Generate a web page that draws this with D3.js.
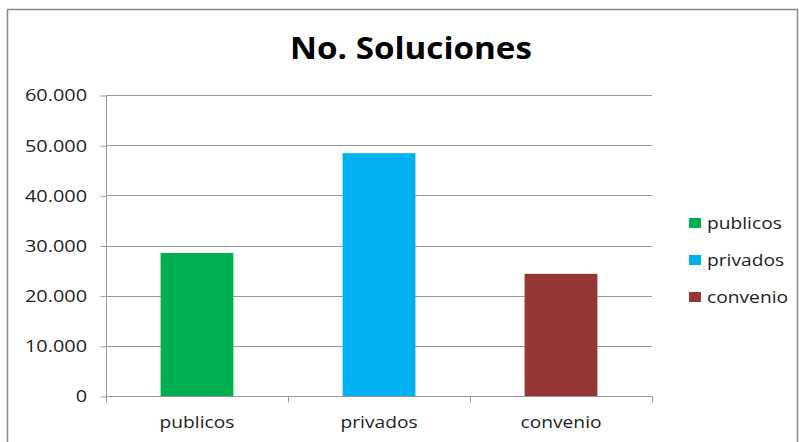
<html>
<head>
<script src="https://cdn.jsdelivr.net/npm/d3@7"></script>
<style>
 body { margin: 0; background: #fff; }
 text { font-family: "Open Sans", Lato, sans-serif; fill: #222; }
</style>
</head>
<body>
<script>
var categories = ["publicos", "privados", "convenio"];
var values = [28500, 48400, 24350];
var colors = ["#00b050", "#00b0f0", "#953735"];
var yTicks = [0, 10000, 20000, 30000, 40000, 50000, 60000];

// the original text is drawn a little wider than its height suggests
var stretch = 1.13;

var svg = d3.select("body").append("svg").attr("width", 799).attr("height", 442);

// outer frame
svg.append("rect").attr("x", 7.5).attr("y", 9.5).attr("width", 790).attr("height", 440)
  .attr("fill", "none").attr("stroke", "#888").attr("stroke-width", 1.5);

svg.append("text").attr("transform", "translate(411,59) scale(1.07,1)").attr("text-anchor", "middle")
  .style("font-size", "31px").style("font-weight", "bold").style("fill", "#000")
  .text("No. Soluciones");

var pLeft = 106, pRight = 652, pTop = 95, pBottom = 396;

var x = d3.scaleBand().domain(categories).range([pLeft, pRight]).paddingInner(0.6).paddingOuter(0.3);
var xb = d3.scaleBand().domain(categories).range([pLeft, pRight]);
var y = d3.scaleLinear().domain([0, 60000]).range([pBottom, pTop]);

// gridlines
svg.append("g").selectAll("line").data(yTicks.slice(1)).enter().append("line")
  .attr("x1", pLeft).attr("x2", pRight)
  .attr("y1", function(d) { return Math.round(y(d)) + 0.5; })
  .attr("y2", function(d) { return Math.round(y(d)) + 0.5; })
  .attr("stroke", "#999");

// bars
svg.append("g").selectAll("rect").data(values).enter().append("rect")
  .attr("x", function(d, i) { return x(categories[i]); })
  .attr("width", x.bandwidth())
  .attr("y", function(d) { return y(d); })
  .attr("height", function(d) { return y(0) - y(d); })
  .attr("fill", function(d, i) { return colors[i]; });

// y axis
var yAxis = svg.append("g").attr("transform", "translate(" + (pLeft + 0.5) + ",0.5)")
  .call(d3.axisLeft(y).tickValues(yTicks).tickSize(6)
    .tickFormat(function(d) { return d === 0 ? "0" : d3.format(",")(d).replace(/,/g, "."); }));
yAxis.select(".domain").attr("stroke", "#999").attr("d", "M0," + pTop + "V" + pBottom);
yAxis.selectAll(".tick line").attr("stroke", "#999");
yAxis.selectAll("text").style("font-size", "17px").style("font-family", "'Open Sans', sans-serif")
  .attr("fill", "#222").attr("x", -19.5 / 1.17).attr("transform", "scale(1.17,1)");

// x axis
var xAxis = svg.append("g").attr("transform", "translate(0," + (pBottom + 0.5) + ")");
xAxis.append("line").attr("x1", pLeft).attr("x2", pRight).attr("stroke", "#999");
xAxis.selectAll(".tk").data(categories.concat(["end"])).enter().append("line")
  .attr("x1", function(d, i) { return pLeft + i * xb.step() + 0.5; })
  .attr("x2", function(d, i) { return pLeft + i * xb.step() + 0.5; })
  .attr("y1", 0).attr("y2", 6).attr("stroke", "#999");
xAxis.selectAll("text").data(categories).enter().append("text")
  .attr("transform", function(d) {
    return "translate(" + (xb(d) + xb.bandwidth() / 2) + ",31) scale(" + stretch + ",1)";
  })
  .attr("text-anchor", "middle").style("font-size", "17px")
  .text(function(d) { return d; });

// legend
var legend = svg.append("g").selectAll("g").data(categories).enter().append("g")
  .attr("transform", function(d, i) { return "translate(689," + (223 + i * 37) + ")"; });
legend.append("rect").attr("x", 0).attr("y", -5).attr("width", 12).attr("height", 10)
  .attr("fill", function(d, i) { return colors[i]; });
legend.append("text").attr("transform", "translate(18,6) scale(" + stretch + ",1)").style("font-size", "17px")
  .text(function(d) { return d; });
</script>
</body>
</html>
